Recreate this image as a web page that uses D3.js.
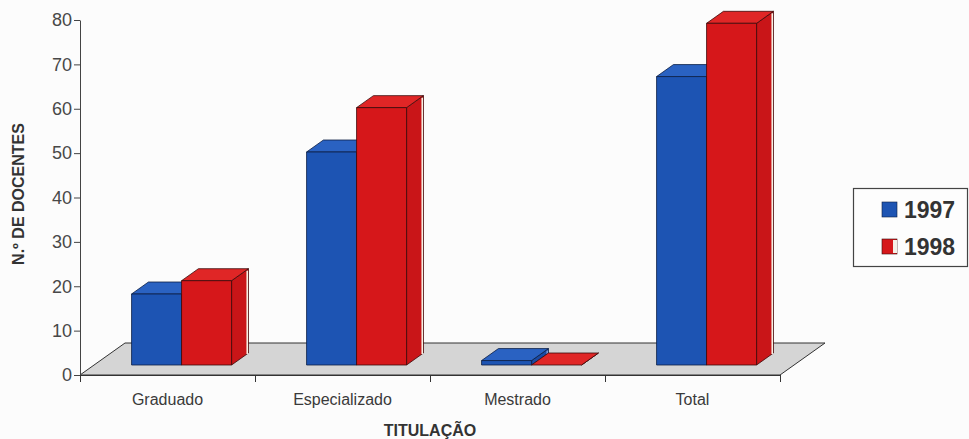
<!DOCTYPE html>
<html>
<head>
<meta charset="utf-8">
<script src="https://cdn.jsdelivr.net/npm/d3@7"></script>
<style>
  html, body { margin: 0; padding: 0; background: #fcfcfc; }
  svg { display: block; }
  text { font-family: "Liberation Sans", Arial, sans-serif; }
</style>
</head>
<body>
<svg id="chart" width="969" height="439"></svg>
<script>
// Número de docentes por titulação, 1997 e 1998
const categories = ["Graduado", "Especializado", "Mestrado", "Total"];
const years = ["1997", "1998"];
const values1997 = [16, 48, 1, 65];
const values1998 = [19, 58, 0, 77];
const yTicks = [0, 10, 20, 30, 40, 50, 60, 70, 80];
const yTitle = "N.º DE DOCENTES";
const xTitle = "TITULAÇÃO";

const seriesValues = [values1997, values1998];
const palette = {
  "1997": { front: "#1d54b3", top: "#2a62c2", side: "#1a4aa4", edge: "#0c1f45" },
  "1998": { front: "#d6171a", top: "#e02626", side: "#c91518", edge: "#3b0a0a" }
};

const svg = d3.select("#chart");
const plotLeft = 80, plotRight = 780, plotBottom = 375, plotTop = 20;

// oblique depth of the floor
const DX = 45, DY = -32;
const F0 = 0.3125, F1 = 0.6875;   // bar front / back depth fractions

const y = d3.scaleLinear().domain([0, 80]).range([plotBottom, plotTop]);
const x = d3.scaleBand().domain(categories).range([plotLeft, plotRight]).paddingInner(0).paddingOuter(0);
const xs = d3.scaleBand().domain(years).range([0, x.bandwidth()]).paddingInner(0).paddingOuter(0.75);
const xb = d3.scaleLinear().domain([0, categories.length]).range([plotLeft, plotRight]);

const P = (px, v, f) => [px + f * DX, y(v) + f * DY];
const poly = pts => pts.map(p => p.join(",")).join(" ");

// floor
svg.append("polygon")
  .attr("points", poly([P(plotLeft, 0, 0), P(plotLeft, 0, 1), P(plotRight, 0, 1), P(plotRight, 0, 0)]))
  .attr("fill", "#d5d5d5")
  .attr("stroke", "#333")
  .attr("stroke-width", 1);

// bars: for each category, 1997 then 1998 so the later bar covers the earlier side
categories.forEach((cat, ci) => {
  years.forEach((yr, si) => {
    const v = seriesValues[si][ci];
    const c = palette[yr];
    const x0 = x(cat) + xs(yr), x1 = x0 + xs.bandwidth();
    const g = svg.append("g").attr("class", "bar");
    g.append("polygon")
      .attr("points", poly([P(x1, 0, F0), P(x1, 0, F1), P(x1, v, F1), P(x1, v, F0)]))
      .attr("fill", c.side).attr("stroke", c.edge).attr("stroke-width", 0.8);
    if (v > 0) {
      g.append("line")
        .attr("x1", P(x1, 0, F1)[0] - 1.2).attr("y1", P(x1, 0, F1)[1] + 1)
        .attr("x2", P(x1, v, F1)[0] - 1.2).attr("y2", P(x1, v, F1)[1] + 2)
        .attr("stroke", si === 1 ? "#f6f1e4" : "#7b9ad6").attr("stroke-width", 1.6);
    }
    g.append("polygon")
      .attr("points", poly([P(x0, v, F0), P(x1, v, F0), P(x1, v, F1), P(x0, v, F1)]))
      .attr("fill", c.top).attr("stroke", c.edge).attr("stroke-width", 0.8);
    if (v > 0) {
      g.append("polygon")
        .attr("points", poly([P(x0, 0, F0), P(x1, 0, F0), P(x1, v, F0), P(x0, v, F0)]))
        .attr("fill", c.front).attr("stroke", c.edge).attr("stroke-width", 0.8);
    }
  });
});

// value axis
const yAxis = svg.append("g")
  .attr("transform", `translate(${plotLeft},0)`)
  .call(d3.axisLeft(y).tickValues(yTicks).tickSize(6).tickSizeOuter(0));
yAxis.select(".domain").attr("stroke", "#444");
yAxis.selectAll(".tick line").attr("stroke", "#444");
yAxis.selectAll(".tick text")
  .attr("fill", "#484848").attr("font-size", 18).attr("x", -8)
  .attr("font-family", "Liberation Sans, Arial, sans-serif");

// category axis: ticks on the category boundaries
const xAxis = svg.append("g")
  .attr("transform", `translate(0,${plotBottom})`)
  .call(d3.axisBottom(xb).ticks(categories.length).tickSize(7).tickSizeOuter(0).tickFormat(""));
xAxis.select(".domain").attr("stroke", "#333");
xAxis.selectAll(".tick line").attr("stroke", "#333");

svg.append("g").selectAll("text")
  .data(categories)
  .join("text")
  .attr("x", d => x(d) + x.bandwidth() / 2)
  .attr("y", 405)
  .attr("text-anchor", "middle")
  .attr("font-size", 16)
  .attr("fill", "#3a3a3a")
  .text(d => d);

// axis titles
svg.append("text")
  .attr("x", 430).attr("y", 436)
  .attr("text-anchor", "middle")
  .attr("font-size", 16).attr("font-weight", "bold").attr("fill", "#333")
  .text(xTitle);

svg.append("text")
  .attr("transform", "translate(24,194) rotate(-90)")
  .attr("text-anchor", "middle")
  .attr("font-size", 16).attr("font-weight", "bold").attr("fill", "#333")
  .text(yTitle);

// legend
const legend = svg.append("g");
legend.append("rect")
  .attr("x", 853.5).attr("y", 188.5).attr("width", 114).attr("height", 78)
  .attr("fill", "#fdfdfd").attr("stroke", "#444").attr("stroke-width", 1.2);
years.forEach((yr, i) => {
  const row = legend.append("g").attr("transform", `translate(882,${202 + i * 37})`);
  row.append("rect").attr("width", 15).attr("height", 15)
    .attr("fill", palette[yr].front).attr("stroke", palette[yr].edge).attr("stroke-width", 0.6);
  if (i === 1) {
    row.append("rect").attr("x", 11).attr("y", 1).attr("width", 4).attr("height", 13).attr("fill", "#f4efe6");
  }
  row.append("text")
    .attr("x", 22).attr("y", 16)
    .attr("font-size", 23).attr("font-weight", "bold").attr("fill", "#333")
    .text(yr);
});
</script>
</body>
</html>
